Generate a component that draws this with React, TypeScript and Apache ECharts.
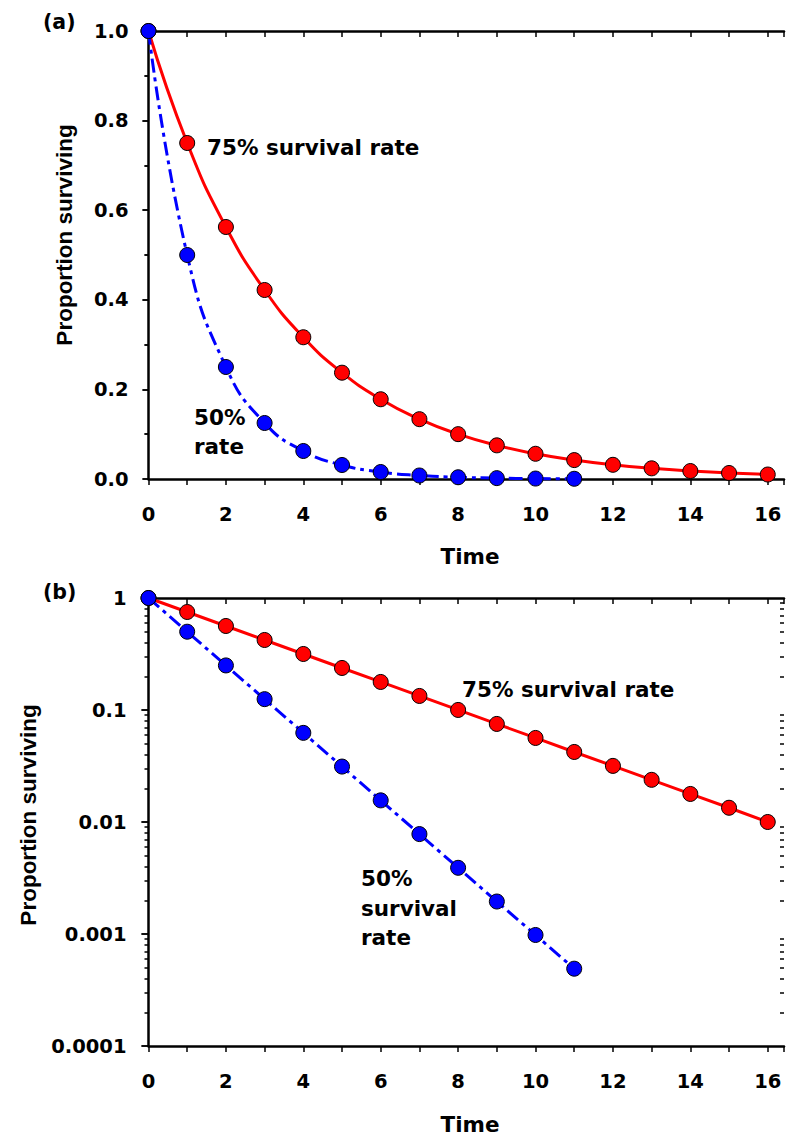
import React, { useEffect, useRef } from "react";
import * as echarts from "echarts";

// ---- data ----
const timesRed = [0, 1, 2, 3, 4, 5, 6, 7, 8, 9, 10, 11, 12, 13, 14, 15, 16];
const survival75 = [1, 0.75, 0.5625, 0.4219, 0.3164, 0.2373, 0.178, 0.1335, 0.1001, 0.0751, 0.0563, 0.0422, 0.0317, 0.0238, 0.0178, 0.0134, 0.01];
const timesBlue = [0, 1, 2, 3, 4, 5, 6, 7, 8, 9, 10, 11];
const survival50 = [1, 0.5, 0.25, 0.125, 0.0625, 0.03125, 0.0156, 0.0078, 0.0039, 0.00195, 0.00098, 0.00049];

const linearTicksY = [0, 0.2, 0.4, 0.6, 0.8, 1.0];
const logTickLabels = ["0.0001", "0.001", "0.01", "0.1", "1"];
const xTickLabels = [0, 2, 4, 6, 8, 10, 12, 14, 16];

const X_MAX = 16.42;
const FONT = '"DejaVu Sans", sans-serif';
const TITLE_FONT = '"Liberation Sans", Arial, sans-serif';

// minor ticks of the log axis, in exponent space (log10 of 2..9 × each decade)
const minorLogExp: number[] = [];
for (let d = -4; d < 0; d++) {
  for (let m = 2; m <= 9; m++) minorLogExp.push(d + Math.log10(m));
}

const black = "#000";
const lineAxis = { show: true, onZero: false, lineStyle: { color: black, width: 2.5 } };
const tickStyle = { color: black, width: 1.5 };
const labelStyle = { fontSize: 19.5, fontWeight: "bold" as const, fontFamily: FONT, color: black };

function xLabel(v: number) {
  return Number.isInteger(v) && xTickLabels.indexOf(v) >= 0 ? String(v) : "";
}

function xAxes(grid: number) {
  return [
    {
      gridIndex: grid, type: "value", position: "bottom", min: 0, max: X_MAX, interval: 1,
      axisLine: lineAxis, axisTick: { show: true, length: 6, lineStyle: tickStyle },
      axisLabel: { ...labelStyle, margin: 25, formatter: xLabel, showMaxLabel: true },
      splitLine: { show: false },
    },
    {
      gridIndex: grid, type: "value", position: "top", min: 0, max: X_MAX, interval: 1,
      axisLine: lineAxis, axisTick: { show: true, inside: true, length: 6, lineStyle: tickStyle },
      axisLabel: { show: false }, splitLine: { show: false },
    },
  ];
}

function annot(text: string, x: number, y: number, size = 21.5) {
  return {
    type: "text", x, y,
    style: { text, fill: black, font: `bold ${size}px ${FONT}`, textAlign: "left", textVerticalAlign: "middle" },
  };
}

function centered(text: string, x: number, y: number, rotation: number, size: number, family: string) {
  return {
    type: "text", x, y, rotation,
    style: { text, fill: black, font: `bold ${size}px ${family}`, textAlign: "center", textVerticalAlign: "middle" },
  };
}

export default function App() {
  const ref = useRef<HTMLDivElement>(null);

  useEffect(() => {
    if (!ref.current) return;
    const chart = echarts.init(ref.current, null, { renderer: "svg" });

    const redLine = { color: "#ff0000", width: 3 };
    const blueLine = { color: "#0000ff", width: 3, type: [14, 5, 4, 5] };
    const redItem = { color: "#ff0000", borderColor: black, borderWidth: 1 };
    const blueItem = { color: "#0000ff", borderColor: black, borderWidth: 1 };

    const option: any = {
      animation: false,
      backgroundColor: "#fff",
      grid: [
        { left: 148.5, right: 0, top: 31, height: 448 },
        { left: 148.5, right: 0, top: 598, height: 448 },
      ],
      xAxis: [...xAxes(0), ...xAxes(1)],
      yAxis: [
        // (a) left
        {
          gridIndex: 0, type: "value", position: "left", min: 0, max: 1, interval: 0.2,
          axisLine: lineAxis, axisTick: { show: true, length: 6, lineStyle: tickStyle },
          minorTick: { show: true, splitNumber: 2, length: 4, lineStyle: tickStyle },
          axisLabel: { ...labelStyle, margin: 20, formatter: (v: number) => {
            const i = linearTicksY.findIndex((t) => Math.abs(t - v) < 1e-9);
            return i >= 0 ? linearTicksY[i].toFixed(1) : "";
          } },
          splitLine: { show: false },
        },
        // (a) right
        {
          gridIndex: 0, type: "value", position: "right", min: 0, max: 1, interval: 0.2,
          axisLine: { show: false }, axisTick: { show: true, inside: true, length: 6, lineStyle: tickStyle },
          minorTick: { show: true, splitNumber: 2, length: 4, lineStyle: tickStyle },
          axisLabel: { show: false }, splitLine: { show: false },
        },
        // (b) left, log
        {
          gridIndex: 1, type: "log", logBase: 10, position: "left", min: 0.0001, max: 1,
          axisLine: lineAxis, axisTick: { show: true, length: 7, lineStyle: tickStyle },
          axisLabel: { ...labelStyle, margin: 22, formatter: (v: number) => {
            const e = Math.round(Math.log10(v));
            return logTickLabels[e + 4] ?? "";
          } },
          splitLine: { show: false },
        },
        // (b) right, log
        {
          gridIndex: 1, type: "log", logBase: 10, position: "right", min: 0.0001, max: 1,
          axisLine: { show: false }, axisTick: { show: true, inside: true, length: 7, lineStyle: tickStyle },
          axisLabel: { show: false }, splitLine: { show: false },
        },
        // (b) left minor ticks (exponent space)
        {
          gridIndex: 1, type: "value", position: "left", min: -4, max: 0,
          axisLine: { show: false },
          axisTick: { show: true, length: 4, lineStyle: tickStyle, customValues: minorLogExp },
          axisLabel: { show: false }, splitLine: { show: false },
        },
        // (b) right minor ticks
        {
          gridIndex: 1, type: "value", position: "right", min: -4, max: 0,
          axisLine: { show: false },
          axisTick: { show: true, inside: true, length: 4, lineStyle: tickStyle, customValues: minorLogExp },
          axisLabel: { show: false }, splitLine: { show: false },
        },
      ],
      series: [
        {
          name: "75% (a)", type: "line", xAxisIndex: 0, yAxisIndex: 0, clip: false,
          data: timesRed.map((t, i) => [t, survival75[i]]),
          smooth: 0.5,
          symbol: "circle", symbolSize: 15, lineStyle: redLine, itemStyle: redItem,
        },
        {
          name: "50% (a)", type: "line", xAxisIndex: 0, yAxisIndex: 0, clip: false,
          data: timesBlue.map((t, i) => [t, survival50[i]]),
          smooth: 0.5,
          symbol: "circle", symbolSize: 15, lineStyle: blueLine, itemStyle: blueItem,
        },
        {
          name: "75% (b)", type: "line", xAxisIndex: 2, yAxisIndex: 2, clip: false,
          data: timesRed.map((t, i) => [t, survival75[i]]),
          symbol: "circle", symbolSize: 15, lineStyle: redLine, itemStyle: redItem,
        },
        {
          name: "50% (b)", type: "line", xAxisIndex: 2, yAxisIndex: 2, clip: false,
          data: timesBlue.map((t, i) => [t, survival50[i]]),
          symbol: "circle", symbolSize: 15, lineStyle: blueLine, itemStyle: blueItem,
        },
      ],
      graphic: [
        annot("(a)", 43, 22, 20.5),
        annot("(b)", 43, 592, 20.5),
        centered("Proportion surviving", 64, 235, Math.PI / 2, 22.5, TITLE_FONT),
        centered("Proportion surviving", 28, 815, Math.PI / 2, 22.5, TITLE_FONT),
        centered("Time", 470, 556, 0, 21.5, FONT),
        centered("Time", 470, 1124, 0, 21.5, FONT),
        annot("75% survival rate", 207, 147),
        annot("50%", 194, 417),
        annot("rate", 194, 446),
        annot("75% survival rate", 462, 689),
        annot("50%", 361, 878),
        annot("survival", 361, 908),
        annot("rate", 361, 937),
      ],
    };

    chart.setOption(option);
    return () => chart.dispose();
  }, []);

  return (
    <div
      ref={ref}
      style={{ position: "absolute", left: 0, top: 0, width: 787, height: 1137, background: "#fff" }}
    />
  );
}
